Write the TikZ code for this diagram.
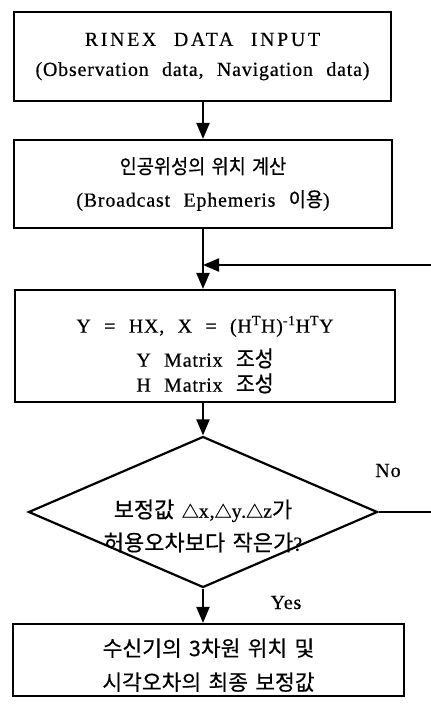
\documentclass[tikz,border=0pt]{standalone}
\usepackage{fontspec}
\setmainfont{Liberation Serif}[LetterSpace=4,WordSpace=2.3,FakeBold=0.5]
\newfontfamily\kr{Noto Sans CJK KR}[WordSpace=1.5,FakeBold=0.5]
\newfontfamily\krs{Noto Sans CJK KR}[FakeStretch=0.93,WordSpace=1.5,FakeBold=0.5]
\newcommand\kt[1]{{\krs\fontsize{22}{33}\selectfont #1}}
\newcommand\kd[1]{{\kr\fontsize{22}{33}\selectfont #1}}
\newcommand\dl{{\kr\fontsize{17}{33}\selectfont △}}
\usetikzlibrary{shapes.geometric,arrows.meta}
\begin{document}
\begin{tikzpicture}[x=1pt,y=-1pt,
  font=\fontsize{20}{30}\selectfont,
  box/.style={draw,line width=2.2pt,inner sep=0pt,align=center},
  conn/.style={line width=2.2pt,-{Triangle[length=16pt,width=13pt]}},
  plain/.style={line width=2.2pt}]
\useasboundingbox (0,0) rectangle (431,705);
\clip (0,0) rectangle (431,705);
\node[box,minimum width=377pt,minimum height=89pt] (b1) at (202.5,56.5)
  {{\addfontfeatures{LetterSpace=13}RINEX DATA INPUT}\\(Observation data, Navigation data)};
\node[box,minimum width=378pt,minimum height=88pt,font=\fontsize{20}{33}\selectfont] (b2) at (203,184)
  {{\krs\fontsize{20}{33}\selectfont 인공위성의 위치 계산}\\(Broadcast Ephemeris {\krs\fontsize{20}{33}\selectfont 이용})};
\node[box,minimum width=380pt,minimum height=112pt,font=\fontsize{20}{34}\selectfont] (b3) at (205,346)
  {\rule{0pt}{34pt}Y = HX, X = (H\textsuperscript{T}H)\textsuperscript{-1}H\textsuperscript{T}Y\\
   Y Matrix \kt{조성}\\[-9pt] H Matrix \kt{조성}};
\node[draw,diamond,shape aspect=2.31,line width=2.2pt,inner sep=0pt,minimum width=349pt,minimum height=151pt] (d) at (203,512) {};
\node[align=center,inner sep=0pt,font=\fontsize{20}{33}\selectfont] (dtxt) at (203,526)
  {\kd{보정값 }\dl x,\dl y.\dl z\kd{가}\\
   \kd{허용오차보다 작은가}?};
\node[box,minimum width=391pt,minimum height=72pt,font=\kr\fontsize{21.5}{34}\selectfont] (b4) at (208.5,660)
  {\rule{0pt}{28pt}수신기의 3차원 위치 및\\시각오차의 최종 보정값};
\coordinate (m) at (203,265);
\coordinate (rt) at (440,265);
\coordinate (rb) at (440,512);
\draw[conn] (b1.south -| 203,0) -- (b2.north -| 203,0);
\draw[plain] (b2.south -| 203,0) -- (m);
\draw[conn] (m) -- (b3.north -| 203,0);
\draw[conn] (d.east) -- (rb) -- (rt) -- (m);
\draw[conn] (b3.south -| 203,0) -- (d.north);
\draw[conn] (d.south) -- (b4.north -| 203,0);
\node[anchor=base] (no) at (388,477) {No};
\node[anchor=base] (yes) at (286,609) {Yes};
\end{tikzpicture}
\end{document}
